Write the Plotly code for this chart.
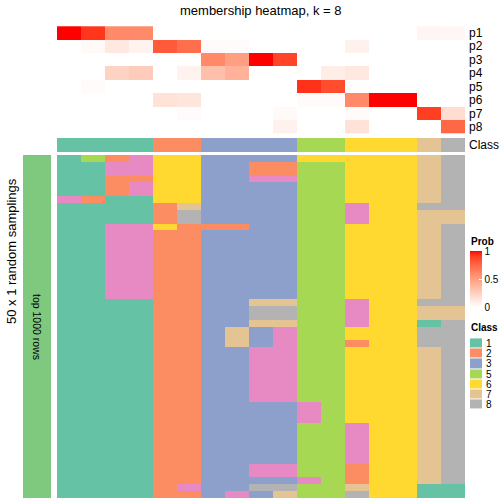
import plotly.graph_objects as go

# ---------------- data ----------------
prob_rows = ["p1", "p2", "p3", "p4", "p5", "p6", "p7", "p8"]
class_codes = [1, 2, 3, 4, 5, 6, 7, 8]
legend_classes = [1, 2, 3, 5, 6, 7, 8]

membership = [
    [1.00, 0.92, 0.60, 0.60, 0.00, 0.00, 0.00, 0.00, 0.00, 0.00, 0.00, 0.00, 0.00, 0.00, 0.00, 0.05, 0.04],
    [0.00, 0.03, 0.12, 0.06, 0.80, 0.72, 0.02, 0.02, 0.00, 0.00, 0.00, 0.00, 0.07, 0.00, 0.00, 0.00, 0.00],
    [0.00, 0.00, 0.00, 0.00, 0.00, 0.00, 0.60, 0.50, 1.00, 0.88, 0.00, 0.00, 0.00, 0.00, 0.00, 0.00, 0.00],
    [0.00, 0.00, 0.23, 0.27, 0.00, 0.06, 0.33, 0.40, 0.00, 0.00, 0.00, 0.09, 0.12, 0.00, 0.00, 0.00, 0.00],
    [0.00, 0.02, 0.00, 0.00, 0.00, 0.00, 0.00, 0.00, 0.00, 0.00, 0.93, 0.85, 0.00, 0.00, 0.00, 0.00, 0.00],
    [0.00, 0.00, 0.00, 0.00, 0.15, 0.13, 0.00, 0.00, 0.00, 0.00, 0.02, 0.02, 0.60, 1.00, 1.00, 0.00, 0.00],
    [0.00, 0.00, 0.00, 0.00, 0.00, 0.02, 0.00, 0.00, 0.00, 0.03, 0.00, 0.00, 0.02, 0.00, 0.00, 0.90, 0.18],
    [0.00, 0.00, 0.00, 0.00, 0.00, 0.00, 0.00, 0.00, 0.00, 0.07, 0.00, 0.00, 0.15, 0.00, 0.00, 0.00, 0.75],
]

column_class = [1, 1, 1, 1, 2, 2, 3, 3, 3, 3, 5, 5, 6, 6, 6, 7, 8]

base_a = [1, 1, 4, 4, 2, 2, 3, 3, 3, 3, 5, 5, 6, 6, 6, 7, 8]
base_b = [1, 1, 1, 1, 2, 2, 3, 3, 4, 4, 5, 5, 6, 6, 6, 7, 8]
base_c = [1, 1, 1, 1, 2, 2, 3, 3, 3, 3, 4, 5, 6, 6, 6, 7, 8]
base_d = [1, 1, 1, 1, 2, 2, 3, 3, 3, 3, 5, 5, 4, 6, 6, 7, 8]
base_e = [1, 1, 1, 1, 2, 2, 3, 3, 4, 4, 5, 5, 2, 6, 6, 7, 8]

samplings = (
    [
        [1, 5, 2, 4, 6, 6, 3, 3, 3, 3, 6, 6, 6, 6, 6, 7, 8],
        [1, 1, 4, 4, 6, 6, 3, 3, 2, 2, 5, 5, 6, 6, 6, 7, 8],
        [1, 1, 4, 4, 6, 6, 3, 3, 2, 2, 5, 5, 6, 6, 6, 7, 8],
        [1, 1, 2, 2, 6, 6, 3, 3, 4, 4, 5, 5, 6, 6, 6, 7, 8],
        [1, 1, 2, 4, 6, 6, 3, 3, 3, 3, 5, 5, 6, 6, 6, 7, 8],
        [1, 1, 2, 4, 6, 6, 3, 3, 3, 3, 5, 5, 6, 6, 6, 7, 8],
        [4, 2, 1, 1, 6, 6, 3, 3, 3, 3, 5, 5, 6, 6, 6, 7, 8],
        [1, 1, 1, 1, 2, 7, 3, 3, 3, 3, 5, 5, 4, 6, 6, 8, 8],
        [1, 1, 1, 1, 2, 8, 3, 3, 3, 3, 5, 5, 4, 6, 6, 7, 7],
        [1, 1, 1, 1, 2, 8, 3, 3, 3, 3, 5, 5, 4, 6, 6, 7, 7],
        [1, 1, 4, 4, 6, 2, 2, 2, 3, 3, 5, 5, 6, 6, 6, 7, 8],
    ]
    + [base_a] * 10
    + [
        [1, 1, 1, 1, 2, 2, 3, 3, 7, 7, 5, 5, 4, 6, 6, 8, 8],
        [1, 1, 1, 1, 2, 2, 3, 3, 8, 8, 5, 5, 4, 6, 6, 7, 7],
        [1, 1, 1, 1, 2, 2, 3, 3, 8, 8, 5, 5, 4, 6, 6, 7, 7],
        [1, 1, 1, 1, 2, 2, 3, 3, 7, 7, 5, 5, 4, 6, 6, 1, 8],
        [1, 1, 1, 1, 2, 2, 3, 7, 3, 4, 5, 5, 6, 6, 6, 8, 8],
        [1, 1, 1, 1, 2, 2, 3, 7, 3, 4, 5, 5, 6, 6, 6, 8, 8],
        [1, 1, 1, 1, 2, 2, 3, 7, 3, 4, 5, 5, 2, 6, 6, 8, 8],
    ]
    + [base_b] * 8
    + [base_c] * 3
    + [base_d] * 6
    + [base_e] * 2
    + [
        [1, 1, 1, 1, 2, 2, 3, 3, 3, 3, 4, 5, 2, 6, 6, 7, 8],
        [1, 1, 1, 1, 2, 4, 3, 3, 8, 8, 5, 5, 7, 6, 6, 1, 1],
        [1, 1, 1, 1, 2, 2, 3, 4, 3, 7, 5, 5, 8, 6, 6, 1, 1],
    ]
)

# ---------------- styles ----------------
W = H = 504
FONT = "Liberation Sans"
class_colors = {1: "#66C2A5", 2: "#FC8D62", 3: "#8DA0CB", 4: "#E78AC3",
                5: "#A6D854", 6: "#FFD92F", 7: "#E5C494", 8: "#B3B3B3"}


def _lin(c):
    c = c / 255.0
    return c / 12.92 if c <= 0.04045 else ((c + 0.055) / 1.055) ** 2.4


def _gam(c):
    c = 12.92 * c if c <= 0.0031308 else 1.055 * c ** (1 / 2.4) - 0.055
    return max(0, min(255, round(c * 255)))


def rgb2lab(r, g, b):
    r, g, b = _lin(r), _lin(g), _lin(b)
    x = (0.4124 * r + 0.3576 * g + 0.1805 * b) / 0.95047
    y = (0.2126 * r + 0.7152 * g + 0.0722 * b)
    z = (0.0193 * r + 0.1192 * g + 0.9505 * b) / 1.08883
    f = lambda t: t ** (1 / 3) if t > 0.008856 else 7.787 * t + 16 / 116
    fx, fy, fz = f(x), f(y), f(z)
    return 116 * fy - 16, 500 * (fx - fy), 200 * (fy - fz)


def lab2rgb(L, a, b):
    fy = (L + 16) / 116
    fx = fy + a / 500
    fz = fy - b / 200
    finv = lambda t: t ** 3 if t ** 3 > 0.008856 else (t - 16 / 116) / 7.787
    x, y, z = finv(fx) * 0.95047, finv(fy), finv(fz) * 1.08883
    r = 3.2406 * x - 1.5372 * y - 0.4986 * z
    g = -0.9689 * x + 1.8758 * y + 0.0415 * z
    bb = 0.0557 * x - 0.2040 * y + 1.0570 * z
    return "rgb(%d,%d,%d)" % (_gam(max(r, 0)), _gam(max(g, 0)), _gam(max(bb, 0)))


lw = rgb2lab(255, 255, 255)
lr = rgb2lab(255, 0, 0)
prob_scale = []
for i in range(21):
    t = i / 20
    prob_scale.append([t, lab2rgb(*[lw[k] + (lr[k] - lw[k]) * t for k in range(3)])])

class_scale = []
for i, c in enumerate(class_codes):
    lo, hi = i / len(class_codes), (i + 1) / len(class_codes)
    class_scale.append([lo, class_colors[c]])
    class_scale.append([hi, class_colors[c]])


def px_x(p):
    return p / W


def px_y(p):
    return 1 - p / H


x0, x1 = px_x(57), px_x(465)
ncol = len(column_class)
cols = list(range(ncol))

fig = go.Figure()

fig.add_trace(go.Heatmap(
    z=membership, x=cols, y=list(range(len(prob_rows))),
    colorscale=prob_scale, zmin=0, zmax=1, xaxis="x", yaxis="y",
    hoverinfo="skip",
    colorbar=dict(x=px_x(470), xanchor="left", y=px_y(251), yanchor="top",
                  lenmode="pixels", len=56, thickness=12, xpad=0, ypad=0,
                  outlinewidth=0, tickvals=[0, 0.5, 1], ticktext=["0", "0.5", "1"],
                  ticks="inside", tickcolor="white", ticklen=3,
                  tickfont=dict(family=FONT, size=10, color="black")),
))

fig.add_trace(go.Heatmap(
    z=[column_class, column_class], x=cols, y=[0, 1], colorscale=class_scale,
    zmin=0.5, zmax=8.5, showscale=False, xaxis="x2", yaxis="y2", hoverinfo="skip"))

fig.add_trace(go.Heatmap(
    z=samplings, x=cols, y=list(range(len(samplings))), colorscale=class_scale,
    zmin=0.5, zmax=8.5, showscale=False, xaxis="x3", yaxis="y3", hoverinfo="skip"))

fig.add_trace(go.Heatmap(
    z=[[0]], colorscale=[[0, "#7FC97F"], [1, "#7FC97F"]], showscale=False,
    xaxis="x4", yaxis="y4", hoverinfo="skip"))

fig.add_trace(go.Heatmap(
    z=[[c] for c in legend_classes], y=list(range(len(legend_classes))),
    colorscale=class_scale, zmin=0.5, zmax=8.5, showscale=False, ygap=1,
    xaxis="x5", yaxis="y5", hoverinfo="skip"))

hidden = dict(visible=False, showgrid=False, zeroline=False, fixedrange=True)
fig.update_layout(
    width=W, height=H, margin=dict(l=0, r=0, t=0, b=0),
    paper_bgcolor="white", plot_bgcolor="white", showlegend=False,
    font=dict(family=FONT, color="black"),
    xaxis=dict(domain=[x0, x1], anchor="y", **hidden),
    yaxis=dict(domain=[px_y(136), px_y(24)], anchor="x", autorange="reversed", **hidden),
    xaxis2=dict(domain=[x0, x1], anchor="y2", **hidden),
    yaxis2=dict(domain=[px_y(152), px_y(138)], anchor="x2", range=[-0.5, 1.5], **hidden),
    xaxis3=dict(domain=[x0, x1], anchor="y3", **hidden),
    yaxis3=dict(domain=[px_y(498), px_y(155)], anchor="x3", autorange="reversed", **hidden),
    xaxis4=dict(domain=[px_x(23), px_x(51)], anchor="y4", **hidden),
    yaxis4=dict(domain=[px_y(498), px_y(155)], anchor="x4", **hidden),
    xaxis5=dict(domain=[px_x(470), px_x(482)], anchor="y5", **hidden),
    yaxis5=dict(domain=[px_y(412), px_y(336)], anchor="x5", autorange="reversed", **hidden),
)

ann = []
ann.append(dict(text="membership heatmap, k = 8", x=px_x(261), y=px_y(10),
                xref="paper", yref="paper", showarrow=False,
                font=dict(size=13), xanchor="center", yanchor="middle"))
for i, name in enumerate(prob_rows):
    ann.append(dict(text=name, x=px_x(467), y=i, xref="paper", yref="y",
                    showarrow=False, xanchor="left", yanchor="middle", font=dict(size=12)))
ann.append(dict(text="Class", x=px_x(467), y=0.5, xref="paper", yref="y2",
                showarrow=False, xanchor="left", yanchor="middle", font=dict(size=12)))
ann.append(dict(text="50 x 1 random samplings", x=px_x(11), y=px_y(251),
                xref="paper", yref="paper", showarrow=False, textangle=-90,
                font=dict(size=13), xanchor="center", yanchor="middle"))
ann.append(dict(text="top 1000 rows", x=px_x(37), y=px_y(327),
                xref="paper", yref="paper", showarrow=False, textangle=90,
                font=dict(size=10.5), xanchor="center", yanchor="middle"))
ann.append(dict(text="<b>Prob</b>", x=px_x(469), y=px_y(241), xref="paper", yref="paper",
                showarrow=False, xanchor="left", yanchor="middle", font=dict(size=10)))
ann.append(dict(text="<b>Class</b>", x=px_x(469), y=px_y(327), xref="paper", yref="paper",
                showarrow=False, xanchor="left", yanchor="middle", font=dict(size=10)))
for i, c in enumerate(legend_classes):
    ann.append(dict(text=str(c), x=px_x(484), y=i, xref="paper", yref="y5",
                    showarrow=False, xanchor="left", yanchor="middle", font=dict(size=10)))
fig.update_layout(annotations=ann)

fig.write_html("out.html", config={"displayModeBar": False},
               post_script="document.body.style.margin='0';document.body.style.overflow='hidden';")
